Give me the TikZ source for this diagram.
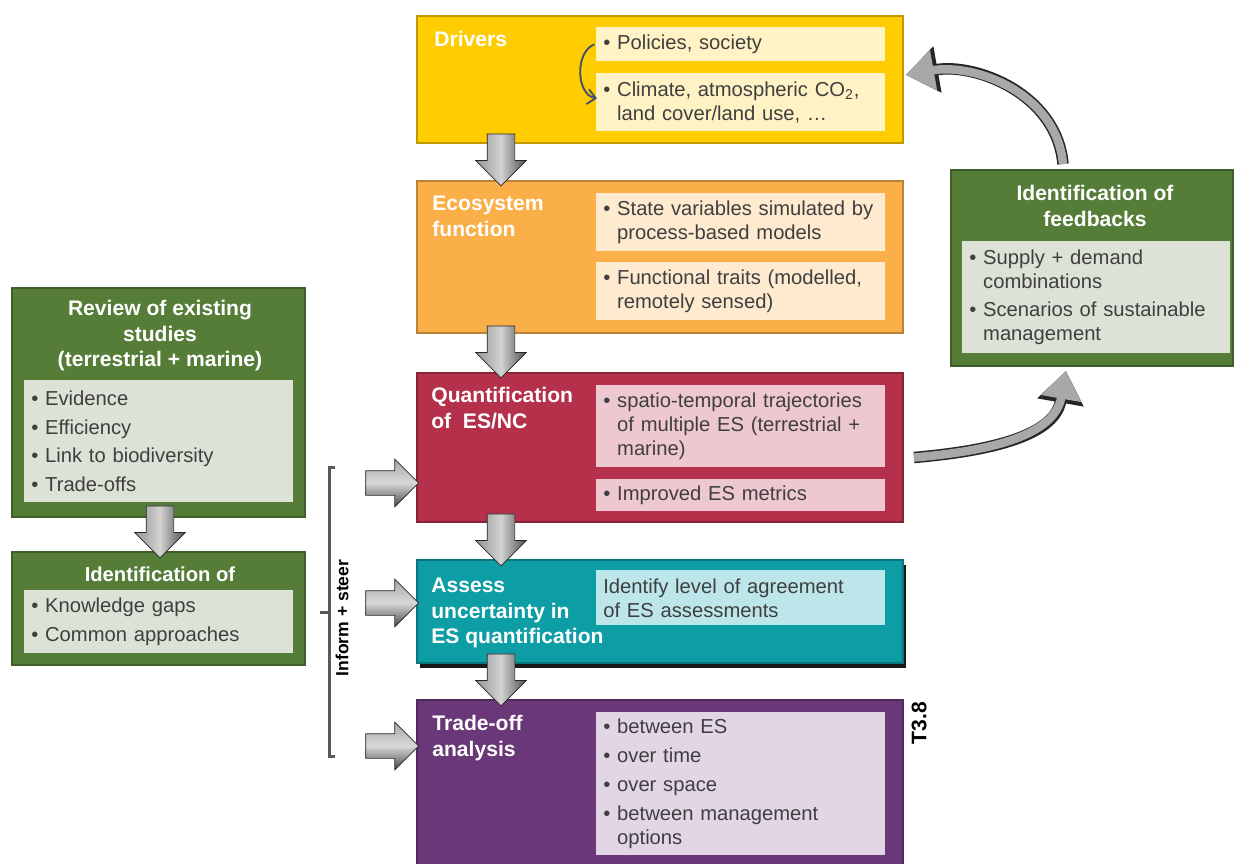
\documentclass[tikz,border=0pt]{standalone}
\usepackage{fontspec}
\setmainfont{Liberation Sans}
\usetikzlibrary{arrows.meta,positioning,calc,fit,shapes.arrows,shadows}
\definecolor{drvyellow}{HTML}{FFCC00}
\definecolor{drvlight}{HTML}{FFF2C4}
\definecolor{ecoorange}{HTML}{FAAF48}
\definecolor{ecolight}{HTML}{FDEACF}
\definecolor{quantred}{HTML}{B4304B}
\definecolor{quantlight}{HTML}{EEC8D1}
\definecolor{assteal}{HTML}{0D9DA5}
\definecolor{asslight}{HTML}{BDE6EA}
\definecolor{tradepurple}{HTML}{6A3879}
\definecolor{tradelight}{HTML}{E2D5E6}
\definecolor{revgreen}{HTML}{567D38}
\definecolor{revlight}{HTML}{DCE3D6}
\definecolor{txtgrey}{HTML}{3F3F3F}
\definecolor{bracketgrey}{HTML}{595959}
\definecolor{slate}{HTML}{44546A}
\newcommand{\bul}{\textbullet\ }
\newcommand{\ind}{\hphantom{\textbullet\ }}
\tikzset{
  stage/.style      = {draw=#1!75!black, fill=#1, line width=1.1pt, inner sep=0pt},
  inbox/.style      = {fill=#1, anchor=north west, inner xsep=1.4mm, inner ysep=0pt, align=left,
                       font=\fontsize{11.5}{13.6}\selectfont, text=txtgrey},
  title/.style      = {font=\fontsize{12}{14.5}\selectfont\bfseries, text=white, align=left,
                       inner sep=0pt, anchor=north west},
  ctitle/.style     = {font=\fontsize{12}{14.5}\selectfont\bfseries, text=white, align=center,
                       inner sep=0pt, anchor=north},
  downarr/.style    = {single arrow, shape border rotate=270, minimum height=10.4mm, inner sep=2.7mm,
                       single arrow head extend=2.3mm, draw=gray!30!black,
                       left color=gray!85, right color=gray!60!black, middle color=gray!35},
  rightarr/.style   = {single arrow, minimum height=10.6mm, inner sep=2.4mm,
                       single arrow head extend=2.3mm, draw=gray!30!black,
                       top color=gray!70, bottom color=gray!55!black, middle color=gray!30},
  bigcurve/.style   = {line width=1.7mm, draw=gray!68, -{Triangle[length=5.6mm,width=7.8mm]},
                       preaction={draw=gray!30!black, line width=2.3mm, -{Triangle[length=6.4mm,width=9mm]}}},
  loopy/.style      = {draw=slate, line width=1.1pt, -{Straight Barb[length=1.6mm,width=3mm]}},
  bracket/.style    = {draw=bracketgrey, line width=0.6mm},
  note/.style       = {font=\fontsize{10}{12}\selectfont\bfseries, inner sep=0pt, rotate=90},
}
\begin{document}
\begin{tikzpicture}[x=0.2mm,y=0.2mm]
  \useasboundingbox (0,0) rectangle (1235,-864);
  % main chain
  \node[stage=drvyellow, fit={(417,-16)(903,-143)}] (drivers) {};
  \node[stage=ecoorange, fit={(417,-181)(903,-333)}] (eco) {};
  \node[stage=quantred, fit={(417,-373)(903,-522)}] (quant) {};
  \node[stage=assteal, fit={(417,-560)(903,-663)},
        drop shadow={shadow xshift=0.5mm, shadow yshift=-0.9mm, fill=black, opacity=0.9}] (assess) {};
  \node[stage=tradepurple, fit={(417,-700)(903,-866)}] (trade) {};
  \node[title] (drvtitle) at (434,-31) {Drivers};
  \node[title] (ecotitle) at (432,-196) {Ecosystem\\function};
  \node[title] (quanttitle) at (431,-387) {Quantification\\of~~ES/NC};
  \node[title] (asstitle) at (431,-578) {Assess\\uncertainty in\\ES quantification};
  \node[title] (tradetitle) at (432,-715) {Trade-off\\analysis};
  \node[inbox=drvlight, text width=55mm, minimum height=6.8mm] (drvpol) at (596,-27)
    {\bul Policies, society};
  \node[inbox=drvlight, text width=55mm, minimum height=11.6mm] (drvclim) at (596,-73)
    {\bul Climate, atmospheric CO\textsubscript{2},\\\ind land cover/land use, \ldots};
  \node[inbox=ecolight, text width=55mm, minimum height=11.6mm] (ecostate) at (596,-193)
    {\bul State variables simulated by\\\ind process-based models};
  \node[inbox=ecolight, text width=55mm, minimum height=11.6mm] (ecotraits) at (596,-262)
    {\bul Functional traits (modelled,\\\ind remotely sensed)};
  \node[inbox=quantlight, text width=55mm, minimum height=16.4mm] (quanttraj) at (596,-385)
    {\bul spatio-temporal trajectories\\\ind of multiple ES (terrestrial +\\\ind marine)};
  \node[inbox=quantlight, text width=55mm, minimum height=6.4mm] (quantmet) at (596,-479)
    {\bul Improved ES metrics};
  \node[inbox=asslight, text width=55mm, minimum height=11mm] (assagree) at (596,-570)
    {Identify level of agreement\\of ES assessments};
  \node[inbox=tradelight, text width=55mm, minimum height=28.6mm] (tradeopts) at (596,-712)
    {\bul between ES\\[2.8pt]\bul over time\\[2.8pt]\bul over space\\[2.8pt]\bul between management\\\ind options};
  \draw[loopy] ([xshift=-0.3mm]drvpol.west) to[out=200, in=170] ([xshift=0.2mm,yshift=0.8mm]drvclim.west);
  % feedback box
  \node[stage=revgreen, fit={(951,-170)(1233,-366)}] (feedback) {};
  \node[ctitle] (fbtitle) at (1095,-185) {Identification of\\feedbacks};
  \node[inbox=revlight, text width=50.8mm, minimum height=22.4mm] (fbitems) at (962,-241)
    {\bul Supply + demand\\\ind combinations\\[2.8pt]\bul Scenarios of sustainable\\\ind management};
  % review boxes
  \node[stage=revgreen, fit={(12,-288)(305,-517)}] (review) {};
  \node[ctitle] (revtitle) at (160,-300) {Review of existing\\studies\\(terrestrial + marine)};
  \node[inbox=revlight, text width=51mm, minimum height=24.4mm] (revitems) at (24,-380)
    {\bul Evidence\\[2.8pt]\bul Efficiency\\[2.8pt]\bul Link to biodiversity\\[2.8pt]\bul Trade-offs};
  \node[stage=revgreen, fit={(12,-552)(305,-665)}] (ident) {};
  \node[ctitle, font=\fontsize{11.5}{14}\selectfont\bfseries] (idtitle) at (160,-566) {Identification of};
  \node[inbox=revlight, text width=51mm, minimum height=12.6mm] (iditems) at (24,-590)
    {\bul Knowledge gaps\\[2.8pt]\bul Common approaches};
  % block arrows
  \node[downarr] (a1) at (501,-153) {};
  \node[downarr] (a2) at (501,-345) {};
  \node[downarr] (a3) at (501,-533) {};
  \node[downarr] (a4) at (501,-673) {};
  \node[downarr] (a5) at (160,-525) {};
  \node[rightarr] (r1) at (386,-483) {};
  \node[rightarr] (r2) at (386,-603) {};
  \node[rightarr] (r3) at (386,-746) {};
  % bracket
  \draw[bracket] (335,-467) -- (329,-467) -- (329,-756) -- (335,-756);
  \draw[bracket] (329,-612) -- (320,-612);
  \node[note] (inform) at (342,-618) {Inform + steer};
  \node[note, font=\fontsize{12}{14}\selectfont\bfseries] (tlabel) at (919,-723) {T3.8};
  % feedback loop
  \draw[bigcurve] ([xshift=2mm,yshift=-2mm]quant.east) to[out=5, in=-100] ([xshift=-5.2mm,yshift=-0.8mm]feedback.south);
  \draw[bigcurve] ([xshift=-5.8mm,yshift=1mm]feedback.north) to[out=95, in=10] ([xshift=0.4mm,yshift=0.9mm]drivers.east);
\end{tikzpicture}
\end{document}
